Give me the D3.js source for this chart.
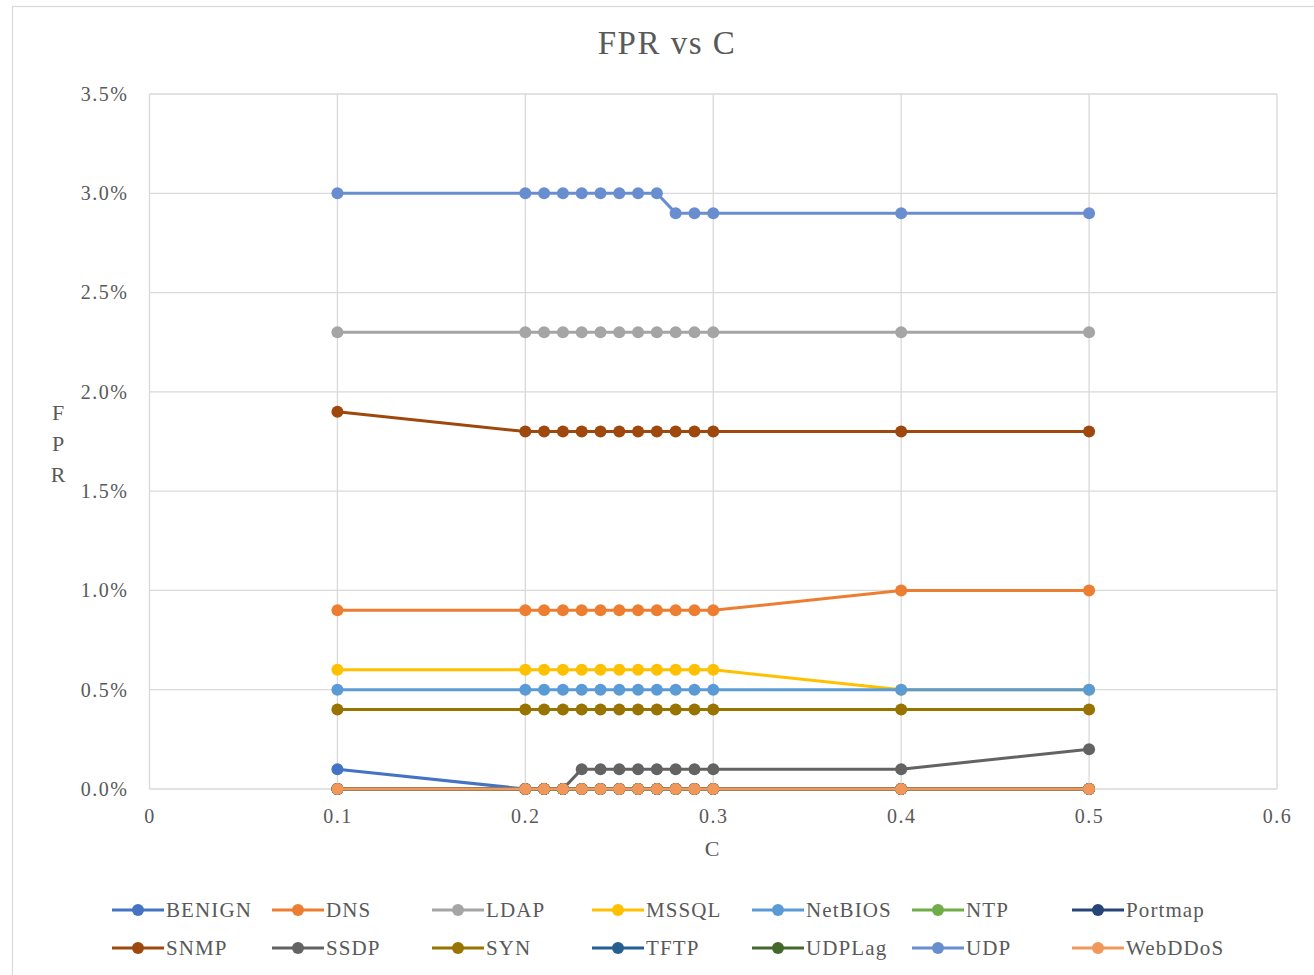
<!DOCTYPE html>
<html>
<head>
<meta charset="utf-8">
<script src="https://cdn.jsdelivr.net/npm/d3@7"></script>
<style>
  html, body { margin: 0; padding: 0; background: #fff; }
  svg { display: block; font-family: "Liberation Serif", "Times New Roman", serif; }
</style>
</head>
<body>
<svg id="chart" width="1314" height="975"></svg>
<script>
// C values sampled
const cValues = [0.1, 0.2, 0.21, 0.22, 0.23, 0.24, 0.25, 0.26, 0.27, 0.28, 0.29, 0.3, 0.4, 0.5];

// False positive rate (%) per class
const benign  = [0.1, 0, 0, 0, 0, 0, 0, 0, 0, 0, 0, 0, 0, 0];
const dns     = [0.9, 0.9, 0.9, 0.9, 0.9, 0.9, 0.9, 0.9, 0.9, 0.9, 0.9, 0.9, 1.0, 1.0];
const ldap    = [2.3, 2.3, 2.3, 2.3, 2.3, 2.3, 2.3, 2.3, 2.3, 2.3, 2.3, 2.3, 2.3, 2.3];
const mssql   = [0.6, 0.6, 0.6, 0.6, 0.6, 0.6, 0.6, 0.6, 0.6, 0.6, 0.6, 0.6, 0.5, 0.5];
const netbios = [0.5, 0.5, 0.5, 0.5, 0.5, 0.5, 0.5, 0.5, 0.5, 0.5, 0.5, 0.5, 0.5, 0.5];
const ntp     = [0, 0, 0, 0, 0, 0, 0, 0, 0, 0, 0, 0, 0, 0];
const portmap = [0, 0, 0, 0, 0, 0, 0, 0, 0, 0, 0, 0, 0, 0];
const snmp    = [1.9, 1.8, 1.8, 1.8, 1.8, 1.8, 1.8, 1.8, 1.8, 1.8, 1.8, 1.8, 1.8, 1.8];
const ssdp    = [0, 0, 0, 0, 0.1, 0.1, 0.1, 0.1, 0.1, 0.1, 0.1, 0.1, 0.1, 0.2];
const syn     = [0.4, 0.4, 0.4, 0.4, 0.4, 0.4, 0.4, 0.4, 0.4, 0.4, 0.4, 0.4, 0.4, 0.4];
const tftp    = [0, 0, 0, 0, 0, 0, 0, 0, 0, 0, 0, 0, 0, 0];
const udplag  = [0, 0, 0, 0, 0, 0, 0, 0, 0, 0, 0, 0, 0, 0];
const udp     = [3.0, 3.0, 3.0, 3.0, 3.0, 3.0, 3.0, 3.0, 3.0, 2.9, 2.9, 2.9, 2.9, 2.9];
const webddos = [0, 0, 0, 0, 0, 0, 0, 0, 0, 0, 0, 0, 0, 0];

const seriesNames  = ["BENIGN", "DNS", "LDAP", "MSSQL", "NetBIOS", "NTP", "Portmap",
                      "SNMP", "SSDP", "SYN", "TFTP", "UDPLag", "UDP", "WebDDoS"];
const seriesValues = [benign, dns, ldap, mssql, netbios, ntp, portmap,
                      snmp, ssdp, syn, tftp, udplag, udp, webddos];
const seriesColors = ["#4472C4", "#ED7D31", "#A5A5A5", "#FFC000", "#5B9BD5", "#70AD47", "#264478",
                      "#9E480E", "#636363", "#997300", "#255E91", "#43682B", "#698ED0", "#F1975A"];

const xTicks = [0, 0.1, 0.2, 0.3, 0.4, 0.5, 0.6];
const yTicks = [0, 0.5, 1.0, 1.5, 2.0, 2.5, 3.0, 3.5];

const svg = d3.select("#chart");

// chart frame
svg.append("rect")
  .attr("x", 12.5).attr("y", 6.5)
  .attr("width", 1310).attr("height", 990)
  .attr("fill", "#fff").attr("stroke", "#d9d9d9").attr("stroke-width", 1.2);

const plot = { left: 149.5, right: 1277, top: 94, bottom: 789 };

const x = d3.scaleLinear().domain([0, 0.6]).range([plot.left, plot.right]);
const y = d3.scaleLinear().domain([0, 3.5]).range([plot.bottom, plot.top]);

// gridlines
const grid = svg.append("g");
grid.selectAll("line.h").data(yTicks).join("line")
  .attr("x1", plot.left).attr("x2", plot.right)
  .attr("y1", d => y(d)).attr("y2", d => y(d))
  .attr("stroke", "#d9d9d9").attr("stroke-width", 1.3);
grid.selectAll("line.v").data(xTicks).join("line")
  .attr("x1", d => x(d)).attr("x2", d => x(d))
  .attr("y1", plot.top).attr("y2", plot.bottom)
  .attr("stroke", "#d9d9d9").attr("stroke-width", 1.3);

// y axis
const yAxis = svg.append("g")
  .attr("transform", `translate(${plot.left - 18},0)`)
  .call(d3.axisLeft(y).tickValues(yTicks).tickSize(0).tickFormat(d => d.toFixed(1) + "%"));
yAxis.select(".domain").remove();
yAxis.selectAll("text")
  .attr("font-family", "Liberation Serif, serif")
  .attr("font-size", 20).attr("letter-spacing", 1.5).attr("fill", "#595959");

// x axis
const xAxis = svg.append("g")
  .attr("transform", `translate(0,${plot.bottom + 17})`)
  .call(d3.axisBottom(x).tickValues(xTicks).tickSize(0).tickFormat(d => d3.format("")(+d.toFixed(1))));
xAxis.select(".domain").remove();
xAxis.selectAll("text")
  .attr("font-family", "Liberation Serif, serif")
  .attr("font-size", 20).attr("letter-spacing", 1.5).attr("fill", "#595959");

// title
svg.append("text")
  .attr("x", 667).attr("y", 54)
  .attr("text-anchor", "middle")
  .attr("font-size", 33).attr("letter-spacing", 1.5).attr("fill", "#595959")
  .text("FPR vs C");

// axis titles
svg.append("text")
  .attr("x", 712).attr("y", 856)
  .attr("text-anchor", "middle")
  .attr("font-size", 22).attr("fill", "#595959")
  .text("C");

svg.append("g").selectAll("text").data(["F", "P", "R"]).join("text")
  .attr("x", 58).attr("y", (d, i) => 420 + i * 31)
  .attr("text-anchor", "middle")
  .attr("font-size", 22).attr("fill", "#595959")
  .text(d => d);

// series lines and markers
const line = d3.line()
  .x((d, i) => x(cValues[i]))
  .y(d => y(d));

seriesValues.forEach((vals, s) => {
  const g = svg.append("g");
  g.append("path")
    .attr("d", line(vals))
    .attr("fill", "none")
    .attr("stroke", seriesColors[s])
    .attr("stroke-width", 3)
    .attr("stroke-linejoin", "round");
  g.selectAll("circle").data(vals).join("circle")
    .attr("cx", (d, i) => x(cValues[i]))
    .attr("cy", d => y(d))
    .attr("r", 6)
    .attr("fill", seriesColors[s]);
});

// legend: two rows of seven
const legend = svg.append("g");
seriesNames.forEach((name, i) => {
  const col = i % 7, row = Math.floor(i / 7);
  const lx = 112 + col * 160, ly = 910 + row * 38;
  const item = legend.append("g").attr("transform", `translate(${lx},${ly})`);
  item.append("line")
    .attr("x1", 0).attr("x2", 52).attr("y1", 0).attr("y2", 0)
    .attr("stroke", seriesColors[i]).attr("stroke-width", 3);
  item.append("circle").attr("cx", 26).attr("cy", 0).attr("r", 6).attr("fill", seriesColors[i]);
  item.append("text")
    .attr("x", 54).attr("y", 7)
    .attr("font-size", 21).attr("letter-spacing", 1.1).attr("fill", "#595959")
    .text(name);
});
</script>
</body>
</html>
